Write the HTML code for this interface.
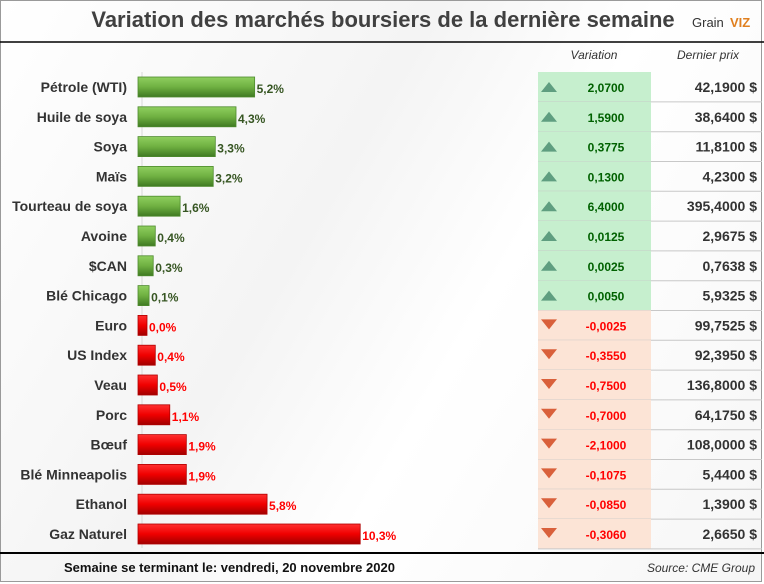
<!DOCTYPE html>
<html><head><meta charset="utf-8">
<style>
body{margin:0;width:764px;height:584px;background:#fff;font-family:"Liberation Sans",sans-serif;overflow:hidden}
#frame{position:absolute;left:0;top:0;width:762px;height:582px;border:1px solid #9a9a9a;box-sizing:border-box;background:linear-gradient(120deg,#fff 0%,#f4f4f4 40%,#fff 60%,#f6f6f6 100%)}
</style></head>
<body>
<div id="frame"></div>
<svg id="chart" width="764" height="584" style="position:absolute;left:0;top:0">
<defs>
<linearGradient id="gg" x1="0" y1="0" x2="0" y2="1"><stop offset="0" stop-color="#8fcf5f"/><stop offset="0.5" stop-color="#6fb041"/><stop offset="1" stop-color="#3f7a22"/></linearGradient>
<linearGradient id="rg" x1="0" y1="0" x2="0" y2="1"><stop offset="0" stop-color="#ff3030"/><stop offset="0.5" stop-color="#f00000"/><stop offset="1" stop-color="#a00000"/></linearGradient>
</defs>
</svg>
<script>
const categories=["Pétrole (WTI)","Huile de soya","Soya","Maïs","Tourteau de soya","Avoine","$CAN","Blé Chicago","Euro","US Index","Veau","Porc","Bœuf","Blé Minneapolis","Ethanol","Gaz Naturel"];
const changePct=[5.2,4.3,3.3,3.2,1.6,0.4,0.3,0.1,0.0,0.4,0.5,1.1,1.9,1.9,5.8,10.3];
const direction=[1,1,1,1,1,1,1,1,-1,-1,-1,-1,-1,-1,-1,-1];
const variation=["2,0700","1,5900","0,3775","0,1300","6,4000","0,0125","0,0025","0,0050","-0,0025","-0,3550","-0,7500","-0,7000","-2,1000","-0,1075","-0,0850","-0,3060"];
const lastPrice=["42,1900 $","38,6400 $","11,8100 $","4,2300 $","395,4000 $","2,9675 $","0,7638 $","5,9325 $","99,7525 $","92,3950 $","136,8000 $","64,1750 $","108,0000 $","5,4400 $","1,3900 $","2,6650 $"];
const labelsPct=["5,2%","4,3%","3,3%","3,2%","1,6%","0,4%","0,3%","0,1%","0,0%","0,4%","0,5%","1,1%","1,9%","1,9%","5,8%","10,3%"];

const svg=document.getElementById('chart');
const NS='http://www.w3.org/2000/svg';
function mk(t,a,txt){const e=document.createElementNS(NS,t);for(const k in a)e.setAttribute(k,a[k]);if(txt!==undefined)e.textContent=txt;svg.appendChild(e);return e;}
const x0=138, minW=9, pxPer=20.7;
const xScale=v=>minW+v*pxPer;
const rowY=i=>87+i*29.8;

let e;
e=mk('text',{x:383,y:27,'text-anchor':'middle','font-size':22,'font-weight':'bold',fill:'#404040'},'Variation des marchés boursiers de la dernière semaine');


e=mk('text',{x:692,y:27,'font-size':13,fill:'#333'},'Grain');


e=mk('text',{x:730,y:27,'font-size':13,fill:'#e08020','font-weight':'bold'},'VIZ');


e=mk('line',{x1:0,y1:42,x2:764,y2:42,stroke:'#000','stroke-width':1.5});


e=mk('line',{x1:0,y1:553,x2:764,y2:553,stroke:'#000','stroke-width':2});


e=mk('text',{x:594,y:59,'text-anchor':'middle','font-size':12,'font-style':'italic',fill:'#333'},'Variation');


e=mk('text',{x:708,y:59,'text-anchor':'middle','font-size':12,'font-style':'italic',fill:'#333'},'Dernier prix');


e=mk('line',{x1:x0+4,y1:72,x2:x0+4,y2:548,stroke:'#d8d8d8','stroke-width':1});



categories.forEach((c,i)=>{
  const y=rowY(i), up=direction[i]>0;
  e=mk('rect',{x:538,y:y-15,width:113,height:29.8,fill:up?'#c6efce':'#fce4d6'});
  
  
  e=mk('line',{x1:538,y1:y+14.9,x2:762,y2:y+14.9,stroke:'#c8c8c8','stroke-width':1});
  
  
  e=mk('text',{x:127,y:y+5,'text-anchor':'end','font-size':14,'font-weight':'bold',fill:'#333'},c);
  
  
  const w=xScale(changePct[i]);
  e=mk('rect',{x:x0,y:y-10,width:w,height:20,fill:up?'url(#gg)':'url(#rg)',stroke:up?'#4e8a2e':'#b00000','stroke-width':0.8});
  
  
  e=mk('text',{x:x0+w+2,y:y+6,'font-size':12,'font-weight':'bold',fill:up?'#375623':'#ff0000'},labelsPct[i]);
  
  
  const tri=up?`541,${y+5} 557,${y+5} 549,${y-5}`:`541,${y-6} 557,${y-6} 549,${y+4}`;
  e=mk('polygon',{points:tri,fill:up?'#5f9e80':'#d9603b'});
  
  
  e=mk('text',{x:606,y:y+5,'text-anchor':'middle','font-size':12,'font-weight':'bold',fill:up?'#006100':'#ff0000'},variation[i]);
  
  
  e=mk('text',{x:757,y:y+5,'text-anchor':'end','font-size':14,'font-weight':'bold',fill:'#333'},lastPrice[i]);
  
  
});
e=mk('text',{x:64,y:572,'font-size':13,'font-weight':'bold',fill:'#111'},'Semaine se terminant le:  vendredi, 20 novembre 2020');


e=mk('text',{x:755,y:572,'text-anchor':'end','font-size':12,'font-style':'italic',fill:'#333'},'Source: CME Group');


</script>
</body></html>
